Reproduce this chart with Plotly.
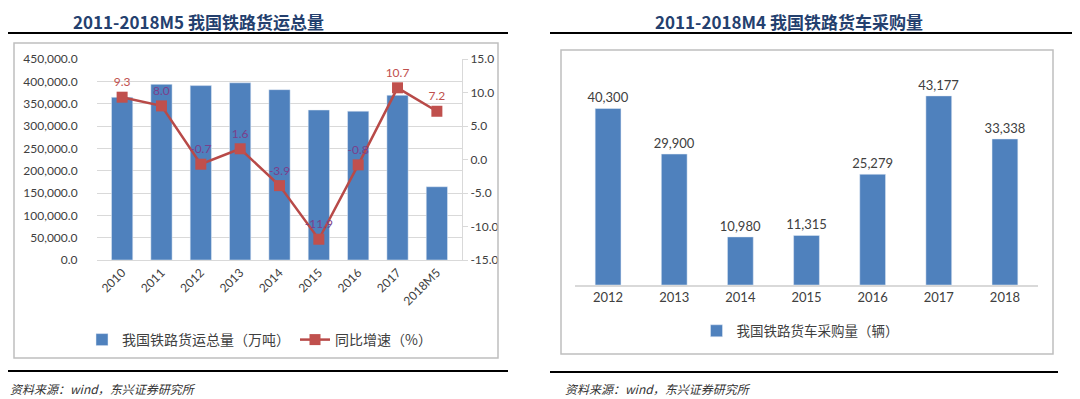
import plotly.graph_objects as go

# ---- Left chart data ----
years_l = ["2010", "2011", "2012", "2013", "2014", "2015", "2016", "2017", "2018M5"]
freight = [364271, 393263, 390438, 396697, 381334, 335801, 333186, 368865, 164000]
growth = [9.3, 8.0, -0.7, 1.6, -3.9, -11.9, -0.8, 10.7, 7.2]
growth_label_colors = ["#C0504D", "#7B3F8C", "#7B3F8C", "#7B3F8C", "#7B3F8C",
                       "#7B3F8C", "#7B3F8C", "#C0504D", "#C0504D"]
left_yticks = list(range(0, 450001, 50000))
right_yticks = [-15, -10, -5, 0, 5, 10, 15]

# ---- Right chart data ----
years_r = ["2012", "2013", "2014", "2015", "2016", "2017", "2018"]
wagons = [40300, 29900, 10980, 11315, 25279, 43177, 33338]

# The page body has an 8px default margin; size the figure to fit the window
OFF = 8
W, H = 1080 - OFF, 399 - OFF
def px(x): return max(0.0, (x - OFF) / W)
def py(y): return 1 - (y - OFF) / H

FONT = "Lato, 'Noto Sans CJK SC', sans-serif"
CJK = "'Noto Sans CJK SC', sans-serif"
BLUE = "#4F81BD"
RED = "#C0504D"

fig = go.Figure()

fig.add_trace(go.Bar(
    x=years_l, y=freight, name="我国铁路货运总量（万吨）",
    marker=dict(color=BLUE), width=0.54,
    xaxis="x", yaxis="y", legend="legend",
))
fig.add_trace(go.Scatter(
    x=years_l, y=growth, name="同比增速（%）",
    mode="lines+markers+text",
    line=dict(color="#B84A48", width=2.5),
    marker=dict(symbol="square", size=11, color=RED),
    text=[f"{v:.1f}" for v in growth], textposition="top center",
    textfont=dict(family=FONT, size=12, color=growth_label_colors),
    xaxis="x", yaxis="y2", legend="legend", cliponaxis=False,
))

fig.add_trace(go.Bar(
    x=years_r, y=wagons, name="我国铁路货车采购量（辆）",
    marker=dict(color=BLUE), width=0.39,
    text=[f"{v:,}" for v in wagons], textposition="outside",
    constraintext="none",
    textfont=dict(family=FONT, size=13, color="#404040"),
    xaxis="x3", yaxis="y3", legend="legend2", cliponaxis=False,
))

fig.update_layout(
    width=W, height=H, margin=dict(l=0, r=0, t=0, b=0, autoexpand=False),
    paper_bgcolor="white", plot_bgcolor="white",
    font=dict(family=FONT, size=12, color="#404040"),
    showlegend=True,
    xaxis=dict(domain=[px(97), px(462)], anchor="y", automargin=False,
               tickangle=-45, tickfont=dict(size=12, color="#404040"),
               showline=True, linecolor="#D9D9D9", linewidth=1,
               showgrid=False, ticks=""),
    yaxis=dict(domain=[py(260), py(59)], range=[0, 450000], automargin=False,
               tickvals=left_yticks,
               ticktext=[f"{v:,.1f}" for v in left_yticks],
               showgrid=True, gridcolor="#D9D9D9", gridwidth=1,
               zeroline=False, showline=False,
               ticks="outside", ticklen=16, tickcolor="rgba(0,0,0,0)",
               tickfont=dict(size=12, color="#404040")),
    yaxis2=dict(overlaying="y", side="right", anchor="x", automargin=False,
                range=[-15, 15], tickvals=right_yticks,
                ticktext=[f"{v:.1f}" for v in right_yticks],
                showgrid=False, zeroline=False,
                showline=True, linecolor="#D9D9D9", linewidth=1,
                ticks="outside", ticklen=5, tickcolor="#D9D9D9",
                tickfont=dict(size=12, color="#404040")),
    xaxis3=dict(domain=[px(575), px(1038)], anchor="y3", automargin=False,
                tickfont=dict(size=13, color="#404040"),
                showline=True, linecolor="#D9D9D9", linewidth=1.5,
                showgrid=False, ticks=""),
    yaxis3=dict(domain=[py(285), py(66)], anchor="x3", range=[0, 50000],
                visible=False, automargin=False),
    legend=dict(orientation="h", x=px(82), y=py(340), xanchor="left", yanchor="middle",
                font=dict(family=CJK, size=14, color="#404040"),
                bgcolor="rgba(0,0,0,0)", itemwidth=30, tracegroupgap=0),
    legend2=dict(orientation="h", x=px(800), y=py(331), xanchor="center", yanchor="middle",
                 font=dict(family=CJK, size=13.5, color="#404040"),
                 bgcolor="rgba(0,0,0,0)", itemwidth=30),
)

# Titles (anchored to the top edge so the text box stays inside the figure)
fig.add_annotation(x=px(198), y=1, xref="paper", yref="paper",
                   xanchor="center", yanchor="top", borderpad=0,
                   text="<b>2011-2018M5 我国铁路货运总量</b>", showarrow=False,
                   font=dict(family=CJK, size=17, color="#24406E"))
fig.add_annotation(x=px(789), y=1, xref="paper", yref="paper",
                   xanchor="center", yanchor="top", borderpad=0,
                   text="<b>2011-2018M4 我国铁路货车采购量</b>", showarrow=False,
                   font=dict(family=CJK, size=17, color="#24406E"))
# Sources
fig.add_annotation(x=px(8), y=py(388), xref="paper", yref="paper",
                   xanchor="left", yanchor="middle",
                   text="<i>资料来源：wind，东兴证券研究所</i>", showarrow=False,
                   font=dict(family=CJK, size=12, color="#333333"))
fig.add_annotation(x=px(563), y=py(388), xref="paper", yref="paper",
                   xanchor="left", yanchor="middle",
                   text="<i>资料来源：wind，东兴证券研究所</i>", showarrow=False,
                   font=dict(family=CJK, size=12, color="#333333"))

shapes = [
    # black rules
    dict(type="line", x0=px(3), x1=px(508), y0=py(33), y1=py(33), line=dict(color="black", width=2)),
    dict(type="line", x0=px(3), x1=px(508), y0=py(371), y1=py(371), line=dict(color="black", width=2)),
    dict(type="line", x0=px(550), x1=px(1076), y0=py(33), y1=py(33), line=dict(color="black", width=2)),
    dict(type="line", x0=px(550), x1=px(1058), y0=py(372), y1=py(372), line=dict(color="black", width=2)),
    # chart borders
    dict(type="rect", x0=px(14), x1=px(498), y0=py(358), y1=py(43), line=dict(color="#BFBFBF", width=1.5)),
    dict(type="rect", x0=px(561), x1=px(1053), y0=py(354), y1=py(50), line=dict(color="#BFBFBF", width=1.5)),
]
fig.update_layout(shapes=[dict(s, xref="paper", yref="paper") for s in shapes])

fig.write_html("out.html")
